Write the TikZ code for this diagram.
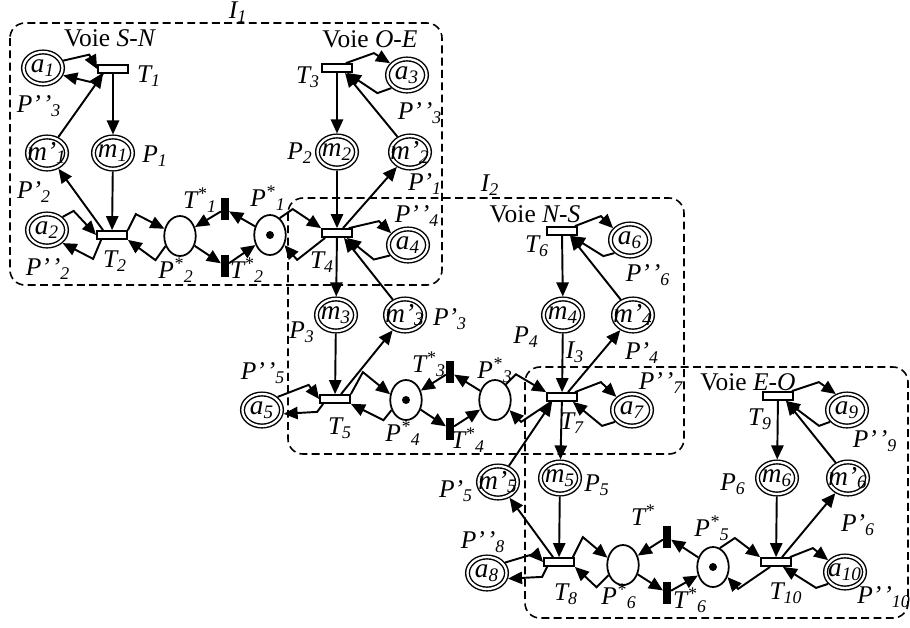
\documentclass[tikz,border=0pt]{standalone}
\usepackage{fontspec}
\setmainfont{Liberation Serif}
\usetikzlibrary{arrows.meta, shapes.geometric, calc}

\newcommand{\lb}[2]{\textit{#1\textsubscript{#2}}}
\newcommand{\inpl}[2]{\makebox[0pt]{\textit{#1\textsubscript{#2}}}}
\newcommand{\pp}{’\kern1.2pt’}

\begin{document}
\begin{tikzpicture}[
  x=0.02cm, y=-0.02cm,
  font=\fontsize{14.5}{17}\selectfont,
  place/.style={ellipse, draw, double, double distance=1.3pt, line width=0.8pt,
                minimum width=0.78cm, minimum height=0.64cm, inner sep=0pt, outer sep=1.45pt,
                font=\fontsize{15.5}{17}\selectfont},
  shared/.style={ellipse, draw, line width=1pt, minimum width=0.63cm,
                 minimum height=0.8cm, inner sep=0pt},
  trans/.style={rectangle, draw, fill=white, line width=1pt,
                minimum width=0.6cm, minimum height=0.16cm, inner sep=0pt},
  bar/.style={rectangle, fill=black, minimum width=0.15cm, minimum height=0.44cm, inner sep=0pt},
  tok/.style={circle, fill=black, minimum size=0.16cm, inner sep=0pt},
  arc/.style={-{Triangle[length=8pt,width=7pt]}, line width=1.1pt},
  zone/.style={draw, dash pattern=on 4.5pt off 2.5pt, line width=0.9pt, rounded corners=0.3cm},
  lbl/.style={inner sep=0pt},
]
\useasboundingbox (0,0) rectangle (910,627);

% intersections
\draw[zone] (10,23) rectangle (442,285);
\draw[zone] (288,198) rectangle (684,454);
\draw[zone] (525,367) rectangle (908,618);
\node[lbl] (lI1) at (238,12) {\lb{I}{1}};
\node[lbl] (lI2) at (490,185) {\lb{I}{2}};
\node[lbl] (lI3) at (575,352) {\lb{I}{3}};

% I1
\node[trans] (T1) at (113,69) {};
\node[place] (a1) at (43,68) {\inpl{a}{1}};
\node[place] (m1) at (113,153) {\inpl{m}{1}};
\node[place] (mp1) at (47,153) {\inpl{m’}{1}};
\node[trans] (T2) at (112,235) {};
\node[place] (a2) at (47,230) {\inpl{a}{2}};
\node[shared] (Ps2) at (180,236) {};
\node[bar] (Tb1) at (225,209) {};
\node[bar] (Tb2) at (225,266) {};
\node[shared] (Ps1) at (270,235) {};
\node[tok] (k1) at (Ps1) {};
\node[trans] (T3) at (337,68) {};
\node[place] (a3) at (407,75) {\inpl{a}{3}};
\node[place] (m2) at (337,152) {\inpl{m}{2}};
\node[place] (mp2) at (410,152) {\inpl{m’}{2}};
\node[trans] (T4) at (337,233) {};
\node[place] (a4) at (408,245) {\inpl{a}{4}};

% I2
\node[place] (m3) at (336,315) {\inpl{m}{3}};
\node[place] (mp3) at (405,315) {\inpl{m’}{3}};
\node[trans] (T5) at (335,399) {};
\node[place] (a5) at (262,410) {\inpl{a}{5}};
\node[shared] (Ps4) at (406,400) {};
\node[tok] (k4) at (Ps4) {};
\node[bar] (Tb3) at (450,372) {};
\node[bar] (Tb4) at (450,429) {};
\node[shared] (Ps3) at (495,400) {};
\node[trans] (T6) at (562,231) {};
\node[place] (a6) at (630,240) {\inpl{a}{6}};
\node[place] (m4) at (563,315) {\inpl{m}{4}};
\node[place] (mp4) at (633,315) {\inpl{m’}{4}};
\node[trans] (T7) at (562,397) {};
\node[place] (a7) at (632,410) {\inpl{a}{7}};

% I3
\node[place] (m5) at (560,478) {\inpl{m}{5}};
\node[place] (mp5) at (498,482) {\inpl{m’}{5}};
\node[trans] (T8) at (559,562) {};
\node[place] (a8) at (487,573) {\inpl{a}{8}};
\node[shared] (Ps6) at (623,565) {};
\node[bar] (Tb5) at (667,537) {};
\node[bar] (Tb6) at (667,593) {};
\node[shared] (Ps5) at (713,567) {};
\node[tok] (k5) at (Ps5) {};
\node[trans] (T10) at (776,562) {};
\node[place] (a10) at (845,572) {\inpl{a}{10}};
\node[place] (m6) at (777,478) {\inpl{m}{6}};
\node[place] (mp6) at (848,478) {\inpl{m’}{6}};
\node[trans] (T9) at (778,396) {};
\node[place] (a9) at (847,410) {\inpl{a}{9}};

% arcs I1, voie S-N
\draw[arc] (a1.20) -- ++(26,-6) -- (T1.west);
\draw[arc] ($(T1.south west)+(6,0)$) -- ++(-13,8) -- (a1.-20);
\draw[arc] (T1) -- (m1);
\draw[arc] (m1) -- (T2);
\draw[arc] ($(T2.north)-(9,0)$) -- (mp1);
\draw[arc] (mp1) -- ($(T1.south west)+(6,0)$);
\draw[arc] (a2.40) -- ++(11,-6) -- (T2.west);
\draw[arc] ($(T2.south west)+(5,0)$) -- ++(-8,19) -- (a2.-40);
\draw[arc] (T2.north east) -- ++(8,-16) -- (Ps2.155);
\draw[arc] (Ps2.-145) -- ++(-10,14) -- (T2.south east);
\draw[arc] (Tb1) -- (Ps2);
\draw[arc] (Ps2) -- (Tb2);
\draw[arc] (Tb2) -- (Ps1);
\draw[arc] (Ps1) -- (Tb1);
% voie O-E
\draw[arc] ($(T3.north east)-(7,0)$) -- ++(28,-10) -- (a3.145);
\draw[arc] (a3.-140) -- ++(-14,5) -- ($(T3.south east)-(6,0)$);
\draw[arc] (T3) -- (m2);
\draw[arc] (m2) -- (T4);
\draw[arc] ($(T4.north)+(6,0)$) -- (mp2);
\draw[arc] (mp2) -- ($(T3.south)+(8,0)$);
\draw[arc] ($(T4.north east)-(4,0)$) -- ++(30,-7) -- (a4.145);
\draw[arc] (a4.-150) -- ++(-16,4) -- ($(T4.south east)-(6,0)$);
\draw[arc] (Ps1.60) -- ++(13,-9) -- (T4.north west);
\draw[arc] ($(T4.south west)+(4,0)$) -- ++(-28,22) -- (Ps1.-35);

% arcs I2
\draw[arc] (T4) -- (m3);
\draw[arc] (m3) -- (T5);
\draw[arc] ($(T5.north)+(6,0)$) -- (mp3);
\draw[arc] (mp3) -- ($(T4.south)+(7,0)$);
\draw[arc] (a5.40) -- ++(31,-12) -- (T5.west);
\draw[arc] ($(T5.south west)+(4,0)$) -- ++(-6,8) -- (a5.-10);
\draw[arc] (T5.north east) -- ++(12,-22) -- (Ps4.160);
\draw[arc] (Ps4.-145) -- ++(-8,10) -- (T5.south east);
\draw[arc] (Tb3) -- (Ps4);
\draw[arc] (Ps4) -- (Tb4);
\draw[arc] (Tb4) -- (Ps3);
\draw[arc] (Ps3) -- (Tb3);
\draw[arc] (Ps3.55) -- ++(10,-10) -- (T7.north west);
\draw[arc] ($(T7.south west)+(5,0)$) -- ++(-30,20) -- (Ps3.-35);
% voie N-S
\draw[arc] (T6) -- (m4);
\draw[arc] (m4) -- (T7);
\draw[arc] ($(T7.north)+(6,0)$) -- (mp4);
\draw[arc] (mp4) -- ($(T6.south)+(8,0)$);
\draw[arc] ($(T6.north east)-(3,0)$) -- ++(26,-10) -- (a6.145);
\draw[arc] (a6.-140) -- ++(-11,3) -- ($(T6.south east)-(7,0)$);
\draw[arc] ($(T7.north east)-(3,0)$) -- ++(26,-10) -- (a7.140);
\draw[arc] (a7.-145) -- ++(-13,4) -- ($(T7.south east)-(5,0)$);

% arcs I3
\draw[arc] (T7) -- (m5);
\draw[arc] (m5) -- (T8);
\draw[arc] ($(T8.north)-(6,0)$) -- (mp5);
\draw[arc] (mp5) -- ($(T7.south west)+(6,0)$);
\draw[arc] (a8.30) -- ++(30,-9) -- (T8.west);
\draw[arc] ($(T8.south west)+(4,0)$) -- ++(-5,10) -- (a8.-15);
\draw[arc] ($(T8.north east)-(2,0)$) -- ++(10,-20) -- (Ps6.155);
\draw[arc] (Ps6.-145) -- ++(-12,12) -- (T8.south east);
\draw[arc] (Tb5) -- (Ps6);
\draw[arc] (Ps6) -- (Tb6);
\draw[arc] (Tb6) -- (Ps5);
\draw[arc] (Ps5) -- (Tb5);
\draw[arc] (Ps5.70) -- ++(15,-10) -- (T10.north west);
\draw[arc] ($(T10.south west)+(10,0)$) -- ++(-32,22) -- (Ps5.-35);
% voie E-O
\draw[arc] (T9) -- (m6);
\draw[arc] (m6) -- (T10);
\draw[arc] ($(T10.north)+(6,0)$) -- (mp6);
\draw[arc] (mp6) -- ($(T9.south)+(8,0)$);
\draw[arc] ($(T9.north east)-(2,0)$) -- ++(27,-9) -- (a9.125);
\draw[arc] (a9.-145) -- ++(-11,4) -- ($(T9.south east)-(8,0)$);
\draw[arc] ($(T10.north east)-(2,0)$) -- ++(23,-9) -- (a10.145);
\draw[arc] (a10.-145) -- ++(-12,4) -- ($(T10.south east)-(9,0)$);

% labels
\node[lbl] (vSN) at (110,38) {Voie \textit{S-N}};
\node[lbl] (vOE) at (370,39) {Voie \textit{O-E}};
\node[lbl] (vNS) at (535,214) {Voie \textit{N-S}};
\node[lbl] (vEO) at (748,382) {Voie \textit{E-O}};
\node[lbl] (lT1) at (149,76) {\lb{T}{1}};
\node[lbl] (lT2) at (115,261) {\lb{T}{2}};
\node[lbl] (lT3) at (308,77) {\lb{T}{3}};
\node[lbl] (lT4) at (322,262) {\lb{T}{4}};
\node[lbl] (lT5) at (340,428) {\lb{T}{5}};
\node[lbl] (lT6) at (537,246) {\lb{T}{6}};
\node[lbl] (lT7) at (572,423) {\lb{T}{7}};
\node[lbl] (lT8) at (566,594) {\lb{T}{8}};
\node[lbl] (lT9) at (760,419) {\lb{T}{9}};
\node[lbl] (lT10) at (786,593) {\lb{T}{10}};
\node[lbl] (lP1) at (155,156) {\lb{P}{1}};
\node[lbl] (lP2) at (300,153) {\lb{P}{2}};
\node[lbl] (lP3) at (302,332) {\lb{P}{3}};
\node[lbl] (lP4) at (526,337) {\lb{P}{4}};
\node[lbl] (lP5) at (597,485) {\lb{P}{5}};
\node[lbl] (lP6) at (733,484) {\lb{P}{6}};
\node[lbl] (lPp1) at (425,184) {\lb{P’}{1}};
\node[lbl] (lPp2) at (34,192) {\lb{P’}{2}};
\node[lbl] (lPp3) at (450,319) {\lb{P’}{3}};
\node[lbl] (lPp4) at (642,353) {\lb{P’}{4}};
\node[lbl] (lPp5) at (456,491) {\lb{P’}{5}};
\node[lbl] (lPp6) at (858,525) {\lb{P’}{6}};
\node[lbl] (lPpp2) at (48,269) {\lb{P\pp}{2}};
\node[lbl] (lPpp3a) at (39,106) {\lb{P\pp}{3}};
\node[lbl] (lPpp3b) at (420,113) {\lb{P\pp}{3}};
\node[lbl] (lPpp4) at (417,216) {\lb{P\pp}{4}};
\node[lbl] (lPpp5) at (263,373) {\lb{P\pp}{5}};
\node[lbl] (lPpp6) at (648,275) {\lb{P\pp}{6}};
\node[lbl] (lPpp7) at (661,383) {\lb{P\pp}{7}};
\node[lbl] (lPpp8) at (483,542) {\lb{P\pp}{8}};
\node[lbl] (lPpp9) at (875,441) {\lb{P\pp}{9}};
\node[lbl] (lPpp10) at (884,597) {\lb{P\pp}{10}};
\node[lbl] (lPs1) at (268,198) {\lb{P\textsuperscript{*}}{1}};
\node[lbl] (lPs2) at (176,270) {\lb{P\textsuperscript{*}}{2}};
\node[lbl] (lPs3) at (495,370) {\lb{P\textsuperscript{*}}{3}};
\node[lbl] (lPs4) at (403,433) {\lb{P\textsuperscript{*}}{4}};
\node[lbl] (lPs5) at (712,528) {\lb{P\textsuperscript{*}}{5}};
\node[lbl] (lPs6) at (619,596) {\lb{P\textsuperscript{*}}{6}};
\node[lbl] (lTb1) at (200,200) {\lb{T\textsuperscript{*}}{1}};
\node[lbl] (lTb2) at (247,270) {\lb{T\textsuperscript{*}}{2}};
\node[lbl] (lTb3) at (429,364) {\lb{T\textsuperscript{*}}{3}};
\node[lbl] (lTb4) at (468,440) {\lb{T\textsuperscript{*}}{4}};
\node[lbl] (lTb5) at (643,515) {\textit{T\textsuperscript{*}}};
\node[lbl] (lTb6) at (690,600) {\lb{T\textsuperscript{*}}{6}};
\end{tikzpicture}
\end{document}
